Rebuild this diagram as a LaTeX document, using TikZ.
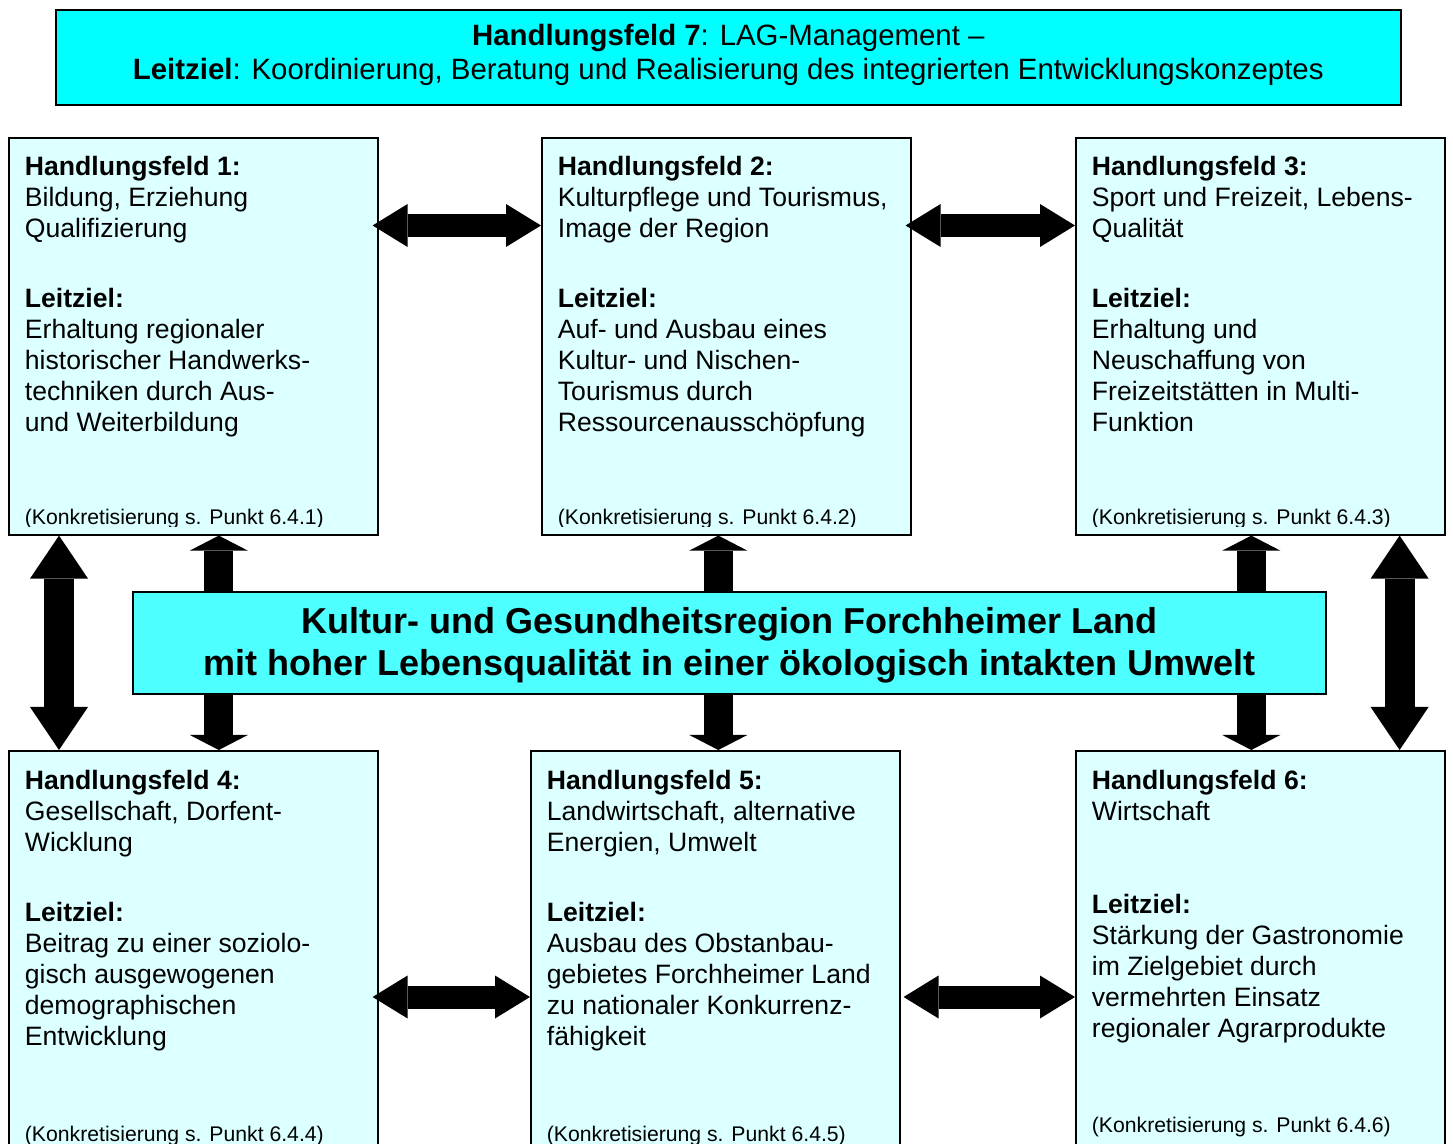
\documentclass[tikz,border=0pt]{standalone}
\usepackage{fontspec}
\setmainfont{Liberation Sans}
\usetikzlibrary{arrows.meta}
\definecolor{colkopf}{RGB}{0,255,255}
\definecolor{colmitte}{RGB}{77,255,255}
\definecolor{colfeld}{RGB}{220,255,255}
\tikzset{
  feld/.style={
    draw, line width=0.8pt, fill=colfeld, anchor=north west,
    minimum width=184.5pt, minimum height=198.5pt, inner sep=0pt
  },
  % multi-line nodes: the base anchor is on the last line
  feldtext/.style={anchor=base west, align=left, inner sep=0pt,
    font=\fontsize{13.3}{15.5}\selectfont},
  punkt/.style={anchor=base west, inner sep=0pt,
    font=\fontsize{10.6}{12}\selectfont},
  querpfeil/.style={line width=11.5pt,
    {Triangle[length=17.5pt,width=21.5pt,line width=0pt]}-{Triangle[length=17.5pt,width=21.5pt,line width=0pt]}},
  seitpfeil/.style={line width=15pt,
    {Triangle[length=21.5pt,width=29pt,line width=0pt]}-{Triangle[length=21.5pt,width=29pt,line width=0pt]}},
  kurzpfeil/.style={line width=14.5pt,
    -{Triangle[length=7.5pt,width=29pt,line width=0pt]}}
}
\newcommand{\ziel}[1]{\textbf{Leitziel:}\\#1}

\begin{document}
\begin{tikzpicture}[x=0.5pt,y=-0.5pt]
  \useasboundingbox (0,0) rectangle (1453,1144);
  \clip (0,0) rectangle (1453,1144);

  % top and centre
  \node[draw, line width=0.8pt, fill=colkopf, anchor=north west, inner sep=0pt,
    minimum width=672.5pt, minimum height=47.5pt] (kopf) at (55,9) {};
  \node[anchor=base, align=center, inner sep=0pt,
    font=\fontsize{14.7}{17}\selectfont] (kopftext)
    at ([shift={(0,71)}]kopf.north)
    {\textbf{Handlungsfeld 7}: LAG-Management --\\
     \textbf{Leitziel}: Koordinierung, Beratung und Realisierung des integrierten Entwicklungskonzeptes};

  \node[draw, line width=0.8pt, fill=colmitte, anchor=north west, inner sep=0pt,
    minimum width=596.5pt, minimum height=51pt] (mitte) at (132,591) {};
  \node[anchor=base, align=center, inner sep=0pt,
    font=\fontsize{18}{21}\selectfont\bfseries] (mittetext)
    at ([shift={(0,85)}]mitte.north)
    {Kultur- und Gesundheitsregion Forchheimer Land\\
     mit hoher Lebensqualität in einer ökologisch intakten Umwelt};

  % the six fields
  \node[feld] (hf1) at (8,137) {};
  \node[feld] (hf2) at (541,137) {};
  \node[feld] (hf3) at (1075,137) {};
  \node[feld, minimum height=200pt] (hf4) at (8,750) {};
  \node[feld, minimum height=200pt] (hf5) at (530,750) {};
  \node[feld, minimum height=200pt] (hf6) at (1075,750) {};

  % texts
  \node[feldtext] (hf1kopf) at ([shift={(16.5,101)}]hf1.north west)
    {\textbf{Handlungsfeld 1:}\\Bildung, Erziehung\\Qualifizierung};
  \node[feldtext] (hf1ziel) at ([shift={(16.5,295)}]hf1.north west)
    {\ziel{Erhaltung regionaler\\historischer Handwerks-\\techniken durch Aus-\\und Weiterbildung}};
  \node[feldtext] (hf2kopf) at ([shift={(16.5,101)}]hf2.north west)
    {\textbf{Handlungsfeld 2:}\\Kulturpflege und Tourismus,\\Image der Region};
  \node[feldtext] (hf2ziel) at ([shift={(16.5,295)}]hf2.north west)
    {\ziel{Auf- und Ausbau eines\\Kultur- und Nischen-\\Tourismus durch\\Ressourcenausschöpfung}};
  \node[feldtext] (hf3kopf) at ([shift={(16.5,101)}]hf3.north west)
    {\textbf{Handlungsfeld 3:}\\Sport und Freizeit, Lebens-\\Qualität};
  \node[feldtext] (hf3ziel) at ([shift={(16.5,295)}]hf3.north west)
    {\ziel{Erhaltung und\\Neuschaffung von\\Freizeitstätten in Multi-\\Funktion}};
  \node[feldtext] (hf4kopf) at ([shift={(16.5,101)}]hf4.north west)
    {\textbf{Handlungsfeld 4:}\\Gesellschaft, Dorfent-\\Wicklung};
  \node[feldtext] (hf4ziel) at ([shift={(16.5,295)}]hf4.north west)
    {\ziel{Beitrag zu einer soziolo-\\gisch ausgewogenen\\demographischen\\Entwicklung}};
  \node[feldtext] (hf5kopf) at ([shift={(16.5,101)}]hf5.north west)
    {\textbf{Handlungsfeld 5:}\\Landwirtschaft, alternative\\Energien, Umwelt};
  \node[feldtext] (hf5ziel) at ([shift={(16.5,295)}]hf5.north west)
    {\ziel{Ausbau des Obstanbau-\\gebietes Forchheimer Land\\zu nationaler Konkurrenz-\\fähigkeit}};
  \node[feldtext] (hf6kopf) at ([shift={(16.5,70)}]hf6.north west)
    {\textbf{Handlungsfeld 6:}\\Wirtschaft};
  \node[feldtext] (hf6ziel) at ([shift={(16.5,287)}]hf6.north west)
    {\ziel{Stärkung der Gastronomie\\im Zielgebiet durch\\vermehrten Einsatz\\regionaler Agrarprodukte}};

  % the references, cut off at the lower edge
  \begin{scope}
    \clip (0,137) rectangle (1453,527);
    \node[punkt] (hf1punkt) at ([shift={(16.5,388)}]hf1.north west) {(Konkretisierung s. Punkt 6.4.1)};
    \node[punkt] (hf2punkt) at ([shift={(16.5,388)}]hf2.north west) {(Konkretisierung s. Punkt 6.4.2)};
    \node[punkt] (hf3punkt) at ([shift={(16.5,388)}]hf3.north west) {(Konkretisierung s. Punkt 6.4.3)};
  \end{scope}
  \node[punkt] (hf4punkt) at ([shift={(16.5,391)}]hf4.north west) {(Konkretisierung s. Punkt 6.4.4)};
  \node[punkt] (hf5punkt) at ([shift={(16.5,391)}]hf5.north west) {(Konkretisierung s. Punkt 6.4.5)};
  \node[punkt] (hf6punkt) at ([shift={(16.5,382)}]hf6.north west) {(Konkretisierung s. Punkt 6.4.6)};

  % horizontal arrows
  \coordinate (h1) at ([shift={(-6,88.5)}]hf1.north east);
  \coordinate (h2) at ([shift={(-6,88.5)}]hf2.north east);
  \coordinate (h3) at ([shift={(-6,247)}]hf4.north east);
  \coordinate (h4) at ([shift={(3,247)}]hf5.north east);
  \draw[querpfeil] (h1) -- (h1 -| hf2.west);
  \draw[querpfeil] (h2) -- (h2 -| hf3.west);
  \draw[querpfeil] (h3) -- (h3 -| hf5.west);
  \draw[querpfeil] (h4) -- (h4 -| hf6.west);

  % outer vertical arrows
  \coordinate (s1) at ([shift={(51,0)}]hf1.south west);
  \coordinate (s2) at ([shift={(-46,0)}]hf3.south east);
  \draw[seitpfeil] (s1) -- (s1 |- hf4.north);
  \draw[seitpfeil] (s2) -- (s2 |- hf6.north);

  % arrows to and from the centre
  \coordinate (p1) at ([shift={(25.5,0)}]hf1.south);
  \coordinate (p2) at ([shift={(-8,0)}]hf2.south);
  \coordinate (p3) at ([shift={(-9,0)}]hf3.south);
  \foreach \p in {p1,p2,p3} {
    \draw[kurzpfeil] (\p |- mitte.north) -- (\p);
    \draw[kurzpfeil] (\p |- mitte.south) -- (\p |- hf4.north);
  }
\end{tikzpicture}
\end{document}
